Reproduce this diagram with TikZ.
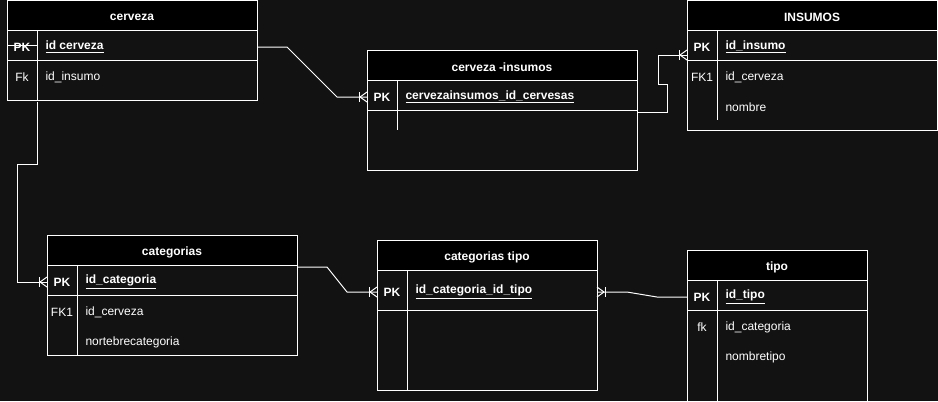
\documentclass[tikz,border=0pt]{standalone}
\usepackage{fontspec}
\setmainfont{Liberation Sans}
\usetikzlibrary{calc}
\definecolor{bgdark}{HTML}{121212}
\def\crowfoot(#1)[#2]{\begin{scope}[shift={(#1)},xscale=#2]
	\draw (-7,0) -- (0,-5); \draw (-7,0) -- (0,5); \draw (-8,-5) -- (-8,5);
\end{scope}}

\begin{document}
\begin{tikzpicture}[x=0.75pt, y=-0.75pt, line width=0.75pt, color=white,
	every node/.style={inner sep=0pt, yshift=-1.5pt, font=\fontsize{9}{11}\selectfont},
	hdr/.style={font=\fontsize{9}{11}\selectfont\bfseries},
	keytag/.style={font=\fontsize{9}{11}\selectfont\bfseries},
	keyfld/.style={anchor=west, font=\fontsize{9}{11}\selectfont\bfseries},
	fldtag/.style={},
	fld/.style={anchor=west}]
			%%%%% START %%%%%
			
			\fill[bgdark] (0,0) rectangle (938,401);
			\useasboundingbox (0,0) rectangle (938,401);
			
			% cerveza
			\draw[fill=black] (7,0) rectangle (257,30);
			\draw (7,30) rectangle (257,100);
			\draw (7,60) -- (257,60);
			\draw (37,30) -- (37,100);
			\draw (7,45) -- (37,45);
			\node[hdr] (cerveza) at (132,15) {cerveza};
			\node[keytag] (cerveza-pk) at (22,45) {PK};
			\node[keyfld] (cerveza-id) at (45,45) {\underline{id cerveza}};
			\node[fldtag] (cerveza-fk) at (22,75) {Fk};
			\node[fld] (cerveza-ins) at (45,75) {id\_insumo};
			
			% cerveza -insumos
			\draw[fill=black] (367,50) rectangle (637,80);
			\draw (367,80) rectangle (637,170);
			\draw (367,110) -- (637,110);
			\draw (397,80) -- (397,130);
			\node[hdr] (ci) at (502,65) {cerveza -insumos};
			\node[keytag] (ci-pk) at (382,95) {PK};
			\node[keyfld] (ci-id) at (405,95) {\underline{cervezainsumos\_id\_cervesas}};
			
			% INSUMOS
			\draw[fill=black] (687,0) rectangle (937,30);
			\draw (687,30) rectangle (937,130);
			\draw (687,60) -- (937,60);
			\draw (717,30) -- (717,120);
			\node[hdr] (insumos) at (812,15) {INSUMOS};
			\node[keytag] (ins-pk) at (702,45) {PK};
			\node[keyfld] (ins-id) at (725,45) {\underline{id\_insumo}};
			\node[fldtag] (ins-fk) at (702,75) {FK1};
			\node[fld] (ins-cer) at (725,75) {id\_cerveza};
			\node[fld] (ins-nom) at (725,105) {nombre};
			
			% categorias
			\draw[fill=black] (47,235) rectangle (297,265);
			\draw (47,265) rectangle (297,355);
			\draw (47,295) -- (297,295);
			\draw (77,265) -- (77,355);
			\node[hdr] (categorias) at (172,250) {categorias};
			\node[keytag] (cat-pk) at (62,280) {PK};
			\node[keyfld] (cat-id) at (85,280) {\underline{id\_categoria}};
			\node[fldtag] (cat-fk) at (62,310) {FK1};
			\node[fld] (cat-cer) at (85,310) {id\_cerveza};
			\node[fld] (cat-nom) at (85,340) {nortebrecategoria};
			
			% categorias tipo
			\draw[fill=black] (377,240) rectangle (597,270);
			\draw (377,270) rectangle (597,390);
			\draw (377,310) -- (597,310);
			\draw (407,270) -- (407,390);
			\node[hdr] (cattipo) at (487,255) {categorias tipo};
			\node[keytag] (ct-pk) at (392,290) {PK};
			\node[keyfld] (ct-id) at (415,290) {\underline{id\_categoria\_id\_tipo}};
			
			% tipo
			\draw[fill=black] (687,250) rectangle (867,280);
			\draw (687,280) -- (687,401) (867,280) -- (867,401);
			\draw (687,310) -- (867,310);
			\draw (717,280) -- (717,401);
			\node[hdr] (tipo) at (777,265) {tipo};
			\node[keytag] (tipo-pk) at (702,295) {PK};
			\node[keyfld] (tipo-id) at (725,295) {\underline{id\_tipo}};
			\node[fldtag] (tipo-fk) at (702,325) {fk};
			\node[fld] (tipo-cat) at (725,325) {id\_categoria};
			\node[fld] (tipo-nom) at (725,355) {nombretipo};
			
			% connectors
			\coordinate (cerveza-r) at (257,45);
			\coordinate (cerveza-b) at (37,100);
			\coordinate (ci-l) at (367,95);
			\coordinate (ci-r) at (637,110);
			\coordinate (ins-l) at (687,53);
			\coordinate (cat-l) at (47,280);
			\coordinate (cat-r) at (297,265);
			\coordinate (ct-l) at (377,290);
			\coordinate (ct-r) at (597,290);
			\coordinate (tipo-l) at (687,295);
			
			\draw (cerveza-r) -- ++(30,0) -- ($(ci-l)+(-30,0)$) -- (ci-l);
			\crowfoot(ci-l)[1]
			\draw (ci-r) -- ++(30,0) -- ++(0,-28) -- ++(-9,0) |- (ins-l);
			\crowfoot(ins-l)[1]
			\draw (cerveza-b) -- ++(0,62) -| ($(cat-l)+(-30,0)$) -- (cat-l);
			\crowfoot(cat-l)[1]
			\draw (cat-r) -- ++(30,0) -- ($(ct-l)+(-30,0)$) -- (ct-l);
			\crowfoot(ct-l)[1]
			\draw (ct-r) -- ++(30,0) -- ($(tipo-l)+(-30,0)$) -- (tipo-l);
			\crowfoot(ct-r)[-1]
			
			%%%%% END %%%%%
\end{tikzpicture}
\end{document}
